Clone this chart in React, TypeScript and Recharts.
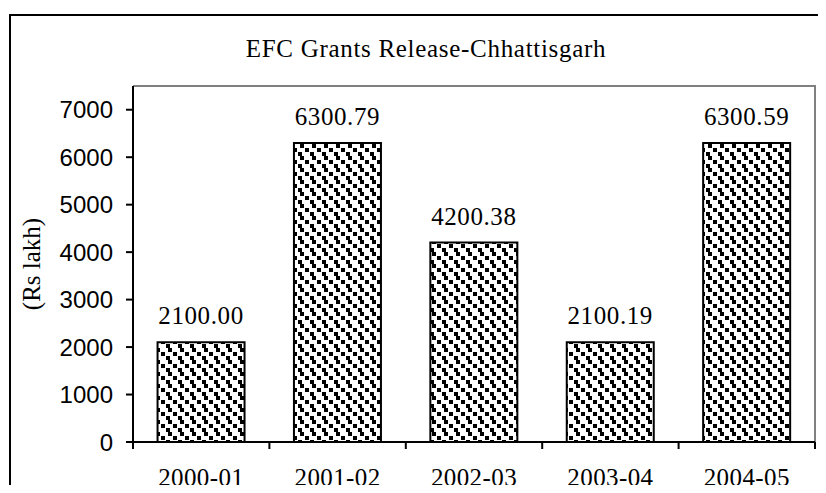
import React from "react";
import { BarChart, Bar, XAxis, YAxis, LabelList } from "recharts";

const years = ["2000-01", "2001-02", "2002-03", "2003-04", "2004-05"];
const grants = [2100.0, 6300.79, 4200.38, 2100.19, 6300.59];
const yTicks = [0, 1000, 2000, 3000, 4000, 5000, 6000, 7000];

const data = years.map((year, i) => ({ year, value: grants[i] }));

const serif = '"Liberation Serif", "Times New Roman", serif';
const sans = '"Liberation Sans", Arial, sans-serif';

const W = 826;
const H = 493;
const margin = { top: 86, right: 11, left: 13, bottom: 0 };
const yAxisWidth = 120;
const xAxisHeight = 51;
const plotLeft = margin.left + yAxisWidth;
const plotRight = W - margin.right;
const plotBottom = H - margin.bottom - xAxisHeight;

// year label at the band centre, tick marks at the band edges
const YearTick = (props: any) => {
  const { x, y, payload, index } = props;
  const half = payload.offset || 68.2;
  return (
    <g>
      <line x1={x - half} y1={y} x2={x - half} y2={y + 7} stroke="#000" strokeWidth={2} />
      {index === years.length - 1 && (
        <line x1={x + half} y1={y} x2={x + half} y2={y + 7} stroke="#000" strokeWidth={2} />
      )}
      <text x={x} y={y + 44} textAnchor="middle" fontFamily={serif} fontSize={25} letterSpacing={0.4} fill="#000">
        {payload.value}
      </text>
    </g>
  );
};

export default function App() {
  return (
    <div style={{ position: "relative", width: W, height: H, margin: -8, overflow: "hidden", background: "#fff" }}>
      <div
        style={{
          position: "absolute",
          left: 9,
          top: 14,
          width: 840,
          height: 500,
          border: "2px solid #000",
        }}
      />
      {/* grey frame on top and right of the plot area */}
      <div
        style={{
          position: "absolute",
          left: plotLeft,
          top: margin.top - 1,
          width: plotRight - plotLeft - 1,
          height: plotBottom - margin.top,
          borderTop: "2px solid #808080",
          borderRight: "2px solid #808080",
        }}
      />
      <BarChart
        width={W}
        height={H}
        data={data}
        margin={margin}
        barCategoryGap="18%"
        style={{ position: "absolute", left: 0, top: 0 }}
      >
        <defs>
          <pattern id="dots" width="12" height="12" patternUnits="userSpaceOnUse">
            <rect width="12" height="12" fill="#fff" />
            <rect x="0" y="0" width="4" height="4" fill="#000" />
            <rect x="5" y="4" width="4" height="4" fill="#000" />
            <rect x="10" y="8" width="2" height="4" fill="#000" />
            <rect x="0" y="8" width="2" height="4" fill="#000" />
          </pattern>
        </defs>
        <XAxis
          dataKey="year"
          height={xAxisHeight}
          interval={0}
          tickLine={false}
          tickSize={0}
          tickMargin={0}
          tick={<YearTick />}
          axisLine={{ stroke: "#000", strokeWidth: 2 }}
        />
        <YAxis
          domain={[0, 7500]}
          ticks={yTicks}
          interval={0}
          width={yAxisWidth}
          tickSize={7}
          tickMargin={13}
          tickLine={{ stroke: "#000", strokeWidth: 2 }}
          axisLine={{ stroke: "#000", strokeWidth: 2 }}
          tick={{ fill: "#000", fontFamily: sans, fontSize: 24 }}
        />
        <Bar dataKey="value" fill="url(#dots)" stroke="#000" strokeWidth={2} isAnimationActive={false}>
          <LabelList
            dataKey="value"
            position="top"
            offset={18}
            formatter={(v: any) => Number(v).toFixed(2)}
            style={{ fill: "#000", fontFamily: serif, fontSize: 25, letterSpacing: 0.6 }}
          />
        </Bar>
      </BarChart>
      <svg width={W} height={H} style={{ position: "absolute", left: 0, top: 0, pointerEvents: "none" }}>
        <text x={426} y={57} textAnchor="middle" fontFamily={serif} fontSize={25} letterSpacing={0.7} fill="#000">
          EFC Grants Release-Chhattisgarh
        </text>
        <text
          x={40}
          y={264}
          transform="rotate(-90 40 264)"
          textAnchor="middle"
          fontFamily={serif}
          fontSize={25}
          fill="#000"
        >
          (Rs lakh)
        </text>
      </svg>
    </div>
  );
}
